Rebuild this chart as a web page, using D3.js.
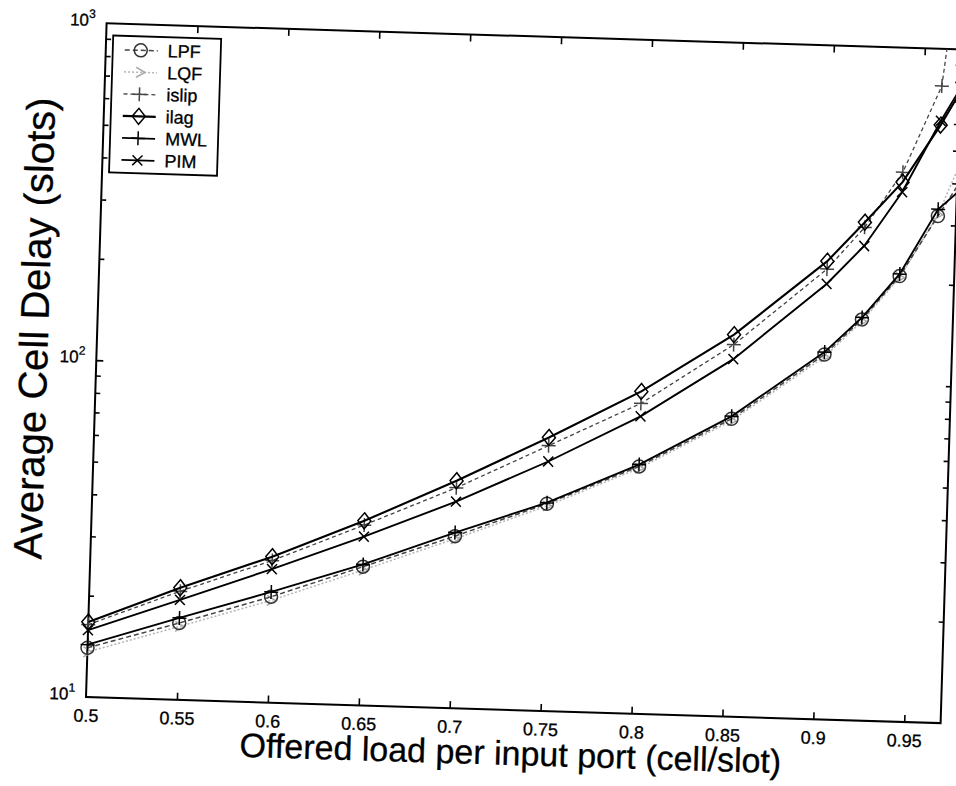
<!DOCTYPE html>
<html>
<head>
<meta charset="utf-8">
<script src="https://cdn.jsdelivr.net/npm/d3@7"></script>
<style>
  body { margin: 0; background: #fff; }
  svg { display: block; }
  text { font-family: "Liberation Sans", Arial, sans-serif; fill: #000; stroke: #000; stroke-width: 0.3px; }
</style>
</head>
<body>
<svg id="chart" width="956" height="786"></svg>
<script>
// offered load values (x) and average delays (slots) per scheduler
var load  = [0.5, 0.55, 0.6, 0.65, 0.7, 0.75, 0.8, 0.85, 0.9, 0.92, 0.94, 0.96, 0.98];
var lpf   = [14.0, 16.9, 20.6, 25.8, 32.4, 41.2, 54.2, 76.5, 121, 155, 210, 319, 480];
var lqf   = [13.6, 16.5, 20.1, 25.2, 31.8, 40.6, 53.5, 75.5, 119, 153, 208, 322, 600];
var islip = [16.4, 21.0, 26.4, 34.3, 45.1, 61.3, 83.4, 127, 217, 291, 427, 776, 8000];
var ilag  = [16.7, 21.5, 27.1, 35.3, 47.3, 64.8, 90.5, 136, 229, 301, 399, 594, 930];
var mwl   = [14.3, 17.5, 21.3, 26.2, 33.2, 41.5, 54.9, 77.8, 123, 157, 213, 334, 420];
var pim   = [15.8, 19.8, 24.9, 31.7, 41.0, 55.0, 76.3, 115, 196, 256, 373, 611, 950];

var seriesNames = ["LPF", "LQF", "islip", "ilag", "MWL", "PIM"];
var seriesData  = [lpf, lqf, islip, ilag, mwl, pim];

var xTicks      = [0.5, 0.55, 0.6, 0.65, 0.7, 0.75, 0.8, 0.85, 0.9, 0.95];
var xTickLabels = ["0.5", "0.55", "0.6", "0.65", "0.7", "0.75", "0.8", "0.85", "0.9", "0.95"];
var yMajor      = [10, 100, 1000];
var yMajorExp   = ["1", "2", "3"];
var xDomain     = [0.5, 0.97];
var yDomain     = [10, 1000];

var xTitle = "Offered load per input port (cell/slot)";
var yTitle = "Average Cell Delay (slots)";

// look of each series
var styles = {
  LPF:   { stroke: "#444", width: 1.5, dash: "5,3", marker: "circle",   mstroke: "#333" },
  LQF:   { stroke: "#b4b4b4", width: 1.5, dash: "2,2", marker: "triangle", mstroke: "#aaa" },
  islip: { stroke: "#444", width: 1.3, dash: "4,3", marker: "plus",     mstroke: "#444" },
  ilag:  { stroke: "#000", width: 2.1, dash: null,  marker: "diamond",  mstroke: "#000" },
  MWL:   { stroke: "#000", width: 1.9, dash: null,  marker: "plus",     mstroke: "#000" },
  PIM:   { stroke: "#000", width: 1.9, dash: null,  marker: "cross",    mstroke: "#000" }
};

var markerPath = {
  circle:   "M6.5,0A6.5,6.5 0 1,1 -6.5,0A6.5,6.5 0 1,1 6.5,0Z",
  triangle: "M-4,-5L5,0L-4,5",
  plus:     "M-7,0H7M0,-7V7",
  diamond:  "M0,-8L6.5,0L0,8L-6.5,0Z",
  cross:    "M-5,-5L5,5M-5,5L5,-5"
};

var x0 = 86, x1 = 941, y0 = 697, y1 = 23;

var svg = d3.select("#chart");
// the scanned figure sits slightly tilted on the page
var g = svg.append("g").attr("transform", "rotate(1.75," + x0 + "," + y0 + ")");

var x = d3.scaleLinear().domain(xDomain).range([x0, x1]);
var y = d3.scaleLog().domain(yDomain).range([y0, y1]);

svg.append("defs").append("clipPath").attr("id", "plotclip")
  .append("rect").attr("x", x0).attr("y", y1).attr("width", x1 - x0).attr("height", y0 - y1);

// all minor log ticks
var yMinor = [];
[10, 100].forEach(function (d) {
  for (var k = 2; k <= 9; k++) yMinor.push(d * k);
});

function styleAxis(sel) {
  sel.select(".domain").remove();
  sel.selectAll(".tick line").attr("stroke", "#000").attr("stroke-width", 1.6);
}

// bottom axis with labels
var xb = g.append("g").attr("transform", "translate(0," + y0 + ")")
  .call(d3.axisBottom(x).tickValues(xTicks).tickSizeInner(-7).tickSizeOuter(0).tickPadding(12)
    .tickFormat(function (d, i) { return xTickLabels[i]; }));
styleAxis(xb);
xb.selectAll(".tick text").attr("font-size", 18).attr("fill", "#000");
xb.selectAll(".tick").filter(function (d) { return d === 0.5; }).select("line").remove();

var xt = g.append("g").attr("transform", "translate(0," + y1 + ")")
  .call(d3.axisTop(x).tickValues(xTicks.slice(1)).tickSizeInner(-7).tickSizeOuter(0).tickFormat(""));
styleAxis(xt);

var yl = g.append("g").attr("transform", "translate(" + x0 + ",0)")
  .call(d3.axisLeft(y).tickValues(yMinor).tickSizeInner(-5).tickSizeOuter(0).tickFormat(""));
styleAxis(yl);
var yr = g.append("g").attr("transform", "translate(" + x1 + ",0)")
  .call(d3.axisRight(y).tickValues(yMinor.concat([100])).tickSizeInner(-5).tickSizeOuter(0).tickFormat(""));
styleAxis(yr);
var yl2 = g.append("g").attr("transform", "translate(" + x0 + ",0)")
  .call(d3.axisLeft(y).tickValues([100]).tickSizeInner(-7).tickSizeOuter(0).tickFormat(""));
styleAxis(yl2);

// box
g.append("rect").attr("x", x0).attr("y", y1).attr("width", x1 - x0).attr("height", y0 - y1)
  .attr("fill", "none").attr("stroke", "#000").attr("stroke-width", 2);

// y tick labels 10^n
yMajor.forEach(function (v, i) {
  var t = g.append("text").attr("x", x0 - 11).attr("y", y(v) + 3)
    .attr("text-anchor", "end").attr("font-size", 17);
  t.append("tspan").text("10");
  t.append("tspan").attr("dy", -8).attr("font-size", 12).text(yMajorExp[i]);
});

// series lines
var line = d3.line().x(function (d) { return x(d[0]); }).y(function (d) { return y(d[1]); });
var plot = g.append("g");
var order = [1, 0, 2, 4, 5, 3];
order.forEach(function (si) {
  var name = seriesNames[si], st = styles[name];
  var pts = load.map(function (l, i) { return [l, seriesData[si][i]]; });
  plot.append("path").datum(pts).attr("clip-path", "url(#plotclip)")
    .attr("d", line).attr("fill", "none")
    .attr("stroke", st.stroke).attr("stroke-width", st.width)
    .attr("stroke-dasharray", st.dash);
  plot.selectAll(null).data(pts.filter(function (d) { return d[0] <= xDomain[1]; }))
    .enter().append("path")
    .attr("transform", function (d) { return "translate(" + x(d[0]) + "," + y(d[1]) + ")"; })
    .attr("d", markerPath[st.marker]).attr("fill", "none")
    .attr("stroke", st.mstroke).attr("stroke-width", 1.5);
});

// legend
var lg = g.append("g").attr("transform", "translate(93,35)");
lg.append("rect").attr("width", 108).attr("height", 137)
  .attr("fill", "#fff").attr("stroke", "#000").attr("stroke-width", 1.8);
seriesNames.forEach(function (name, i) {
  var st = styles[name], yy = 14 + i * 22;
  lg.append("line").attr("x1", 12).attr("x2", 45).attr("y1", yy).attr("y2", yy)
    .attr("stroke", st.stroke).attr("stroke-width", st.width).attr("stroke-dasharray", st.dash);
  lg.append("path").attr("transform", "translate(28," + yy + ")").attr("d", markerPath[st.marker])
    .attr("fill", "none").attr("stroke", st.mstroke).attr("stroke-width", 1.5);
  lg.append("text").attr("x", 55).attr("y", yy + 6).attr("font-size", 18).text(name);
});

// axis titles
g.append("text").attr("x", 512).attr("y", 752).attr("text-anchor", "middle")
  .attr("font-size", 34).text(xTitle);
g.append("text").attr("transform", "translate(37,330) rotate(-90)").attr("text-anchor", "middle")
  .attr("font-size", 40).text(yTitle);
</script>
</body>
</html>
